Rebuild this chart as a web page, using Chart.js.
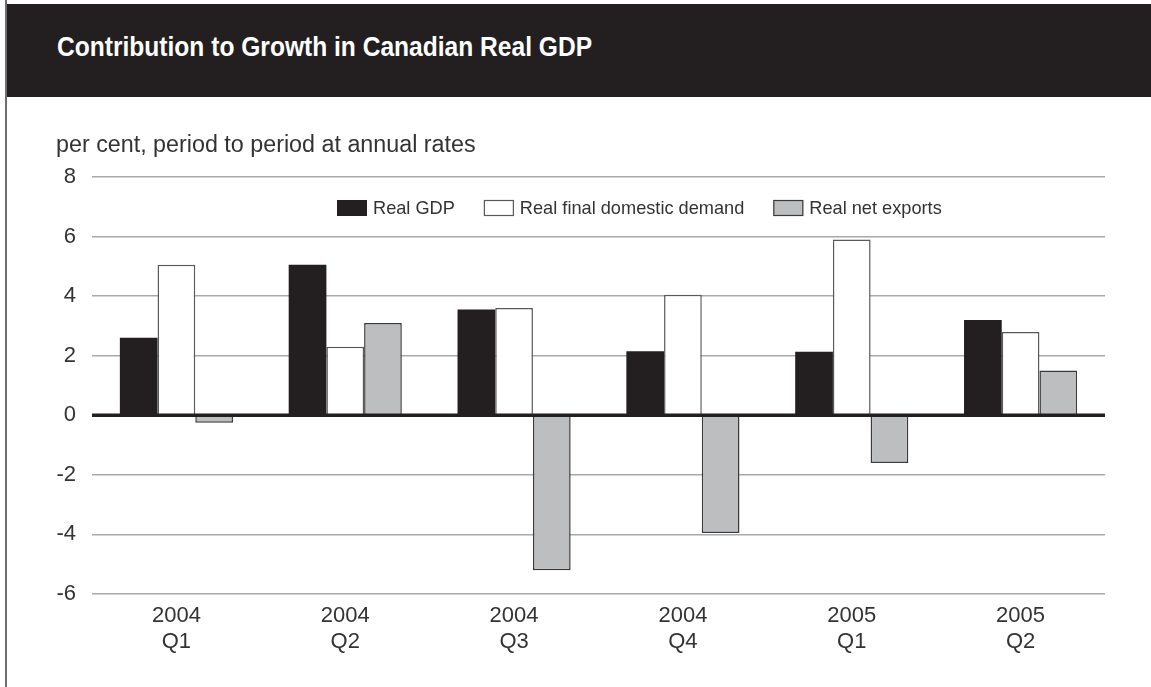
<!DOCTYPE html>
<html>
<head>
<meta charset="utf-8">
<title>Contribution to Growth in Canadian Real GDP</title>
<script src="https://cdn.jsdelivr.net/npm/chart.js@4.4.0/dist/chart.umd.min.js"></script>
<style>
  body { margin: 0; background: #fff; width: 1151px; height: 687px; overflow: hidden; position: relative;
         font-family: "Liberation Sans", Arial, sans-serif; }
  #frame { position: absolute; left: 5px; top: 0; width: 2px; height: 687px; background: #6d6e70; }
  #header { position: absolute; left: 7px; top: 4px; right: 0; height: 93px; background: #231f20; }
  h1 { position: absolute; left: 57px; top: 32px; margin: 0; color: #fff; line-height: 27px; white-space: nowrap;
       font: bold 27px "Liberation Sans Narrow", "Liberation Sans", sans-serif;
       transform: scaleX(0.91); transform-origin: left center; }
  #unit { position: absolute; left: 56px; top: 133px; font-size: 23.3px; line-height: 23px; color: #333; }
  #chart { position: absolute; left: 0; top: 0; }
</style>
</head>
<body>
<div id="frame"></div>
<canvas id="chart" width="1151" height="687"></canvas>
<div id="header"></div>
<h1>Contribution to Growth in Canadian Real GDP</h1>
<div id="unit">per cent, period to period at annual rates</div>
<script>
// quarterly data
const quarters = [['2004', 'Q1'], ['2004', 'Q2'], ['2004', 'Q3'], ['2004', 'Q4'], ['2005', 'Q1'], ['2005', 'Q2']];
const realGdp = [2.6, 5.05, 3.55, 2.15, 2.13, 3.2];
const finalDomesticDemand = [5.05, 2.3, 3.6, 4.05, 5.9, 2.8];
const netExports = [-0.25, 3.1, -5.2, -3.95, -1.6, 1.5];
const yMin = -6, yMax = 8, yStep = 2;

Chart.defaults.font.family = '"Liberation Sans", Arial, sans-serif';
Chart.defaults.color = '#333';

// heavy line at zero, drawn on top of the bars
const zeroLine = {
  id: 'zeroLine',
  afterDatasetsDraw(chart) {
    const ctx = chart.ctx, area = chart.chartArea;
    const y = chart.scales.y.getPixelForValue(0);
    ctx.save();
    ctx.strokeStyle = '#231f20';
    ctx.lineWidth = 3.5;
    ctx.beginPath();
    ctx.moveTo(area.left, y);
    ctx.lineTo(area.right, y);
    ctx.stroke();
    ctx.restore();
  }
};

// legend inside the plot, one row
const boxLegend = {
  id: 'boxLegend',
  afterDraw(chart) {
    const ctx = chart.ctx;
    let x = 337;
    const y = 208;
    ctx.save();
    ctx.font = '18.2px "Liberation Sans", Arial, sans-serif';
    ctx.textBaseline = 'middle';
    chart.data.datasets.forEach(function(ds) {
      ctx.fillStyle = ds.backgroundColor;
      ctx.fillRect(x, y - 8, 30, 16);
      if (ds.borderWidth) {
        ctx.strokeStyle = ds.borderColor;
        ctx.lineWidth = 1.2;
        ctx.strokeRect(x + 0.5, y - 7.5, 29, 15);
      }
      ctx.fillStyle = '#333';
      ctx.fillText(ds.label, x + 36, y + 1);
      x += 36 + ctx.measureText(ds.label).width + 29;
    });
    ctx.restore();
  }
};

const ctx = document.getElementById('chart').getContext('2d');
const growthChart = new Chart(ctx, {
  type: 'bar',
  data: {
    labels: quarters,
    datasets: [
      {
        label: 'Real GDP',
        data: realGdp,
        backgroundColor: '#231f20',
        borderWidth: 0
      },
      {
        label: 'Real final domestic demand',
        data: finalDomesticDemand,
        backgroundColor: '#ffffff',
        borderColor: '#58595b',
        borderWidth: 1.5
      },
      {
        label: 'Real net exports',
        data: netExports,
        backgroundColor: '#bcbec0',
        borderColor: '#3a3a3a',
        borderWidth: 1.5
      }
    ]
  },
  options: {
    responsive: false,
    animation: false,
    layout: { padding: { top: 177, right: 46, left: 0, bottom: 0 } },
    datasets: { bar: { categoryPercentage: 0.67, barPercentage: 1.0 } },
    plugins: {
      legend: { display: false },
      tooltip: { enabled: false }
    },
    scales: {
      x: {
        grid: { display: false, drawTicks: false },
        border: { display: false },
        ticks: { padding: 9, maxRotation: 0, font: { size: 22, lineHeight: 1.18 } },
        afterFit: function(s) { s.height = 93; }
      },
      y: {
        min: yMin,
        max: yMax,
        ticks: { stepSize: yStep, padding: 16, font: { size: 22 } },
        grid: {
          drawTicks: false,
          lineWidth: 1.5,
          color: function(c) { return c.tick.value === 0 ? 'rgba(0,0,0,0)' : '#a7a9ac'; }
        },
        border: { display: false },
        afterFit: function(s) { s.width = 92; }
      }
    }
  },
  plugins: [zeroLine, boxLegend]
});
</script>
</body>
</html>
